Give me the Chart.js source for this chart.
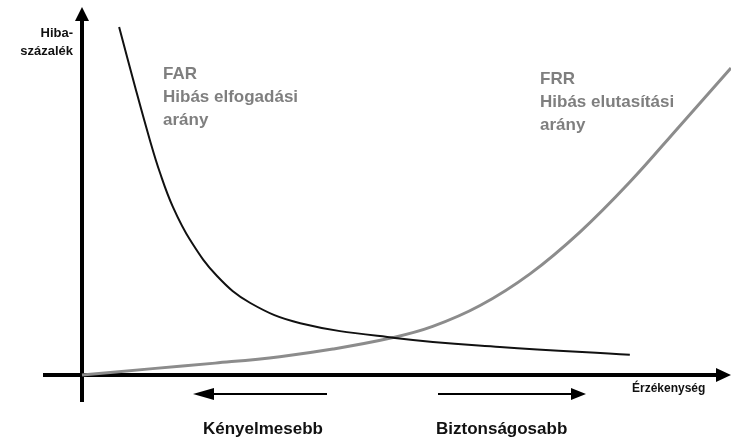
<!DOCTYPE html>
<html>
<head>
<meta charset="utf-8">
<script src="https://cdn.jsdelivr.net/npm/chart.js@4"></script>
<style>
  body { margin: 0; background: #fff; }
  canvas { display: block; }
</style>
</head>
<body>
<canvas id="myChart" width="731" height="443"></canvas>
<script>
// érzékenység (x) és hibaszázalék (y)
const farX = [5.8, 8.3, 10.6, 12.2, 14.2, 16.9, 21.1, 26.3, 34.1, 48.9, 65.3, 85.6];
const farY = [96.7, 80.0, 65.3, 56.1, 46.7, 37.5, 27.5, 20.0, 14.4, 10.3, 7.8, 5.6];
const frrX = [0, 10.6, 20.8, 30.9, 39.2, 48.6, 54.8, 62.2, 70.0, 77.8, 85.6, 93.4, 101.4];
const frrY = [0, 1.7, 3.3, 5.1, 7.2, 10.4, 13.5, 19.3, 28.1, 39.7, 53.6, 69.2, 85.3];

const farLabel = ['FAR', 'Hibás elfogadási', 'arány'];
const frrLabel = ['FRR', 'Hibás elutasítási', 'arány'];
const yTitle = ['Hiba-', 'százalék'];
const xTitle = 'Érzékenység';
const leftLabel = 'Kényelmesebb';
const rightLabel = 'Biztonságosabb';

const toPoints = (xs, ys) => xs.map((x, i) => ({ x: x, y: ys[i] }));

const FONT = '"Liberation Sans", Arial, sans-serif';
const GRAY = '#7f7f7f';

// tengelyek, nyilak, feliratok
const drawingPlugin = {
  id: 'drawing',
  beforeDatasetsDraw: (chart) => {
    const { ctx, scales } = chart;
    const x0 = scales.x.getPixelForValue(0);
    const y0 = scales.y.getPixelForValue(0);
    ctx.save();
    ctx.fillStyle = '#000';
    ctx.strokeStyle = '#000';
    ctx.lineWidth = 4;
    // y tengely
    ctx.beginPath();
    ctx.moveTo(x0, 402);
    ctx.lineTo(x0, 20);
    ctx.stroke();
    ctx.beginPath();
    ctx.moveTo(x0, 7);
    ctx.lineTo(x0 - 7, 21);
    ctx.lineTo(x0 + 7, 21);
    ctx.closePath();
    ctx.fill();
    // x tengely
    ctx.beginPath();
    ctx.moveTo(43, y0);
    ctx.lineTo(718, y0);
    ctx.stroke();
    ctx.beginPath();
    ctx.moveTo(731, y0);
    ctx.lineTo(716, y0 - 7);
    ctx.lineTo(716, y0 + 7);
    ctx.closePath();
    ctx.fill();
    ctx.restore();
  },
  afterDatasetsDraw: (chart) => {
    const { ctx } = chart;
    ctx.save();
    ctx.textBaseline = 'middle';

    // y tengely felirat
    ctx.font = 'bold 13px ' + FONT;
    ctx.fillStyle = '#111';
    ctx.textAlign = 'right';
    ctx.fillText(yTitle[0], 73, 33);
    ctx.fillText(yTitle[1], 73, 51);

    // x tengely felirat
    ctx.font = 'bold 12px ' + FONT;
    ctx.textAlign = 'left';
    ctx.fillText(xTitle, 632, 389);

    // görbe feliratok
    ctx.font = 'bold 17px ' + FONT;
    ctx.fillStyle = GRAY;
    farLabel.forEach((t, i) => ctx.fillText(t, 163, 74 + i * 23));
    frrLabel.forEach((t, i) => ctx.fillText(t, 540, 79 + i * 23));

    // nyilak a tengely alatt
    ctx.strokeStyle = '#000';
    ctx.fillStyle = '#000';
    ctx.lineWidth = 2;
    const ay = 394;
    ctx.beginPath();
    ctx.moveTo(205, ay);
    ctx.lineTo(327, ay);
    ctx.moveTo(438, ay);
    ctx.lineTo(572, ay);
    ctx.stroke();
    ctx.beginPath();
    ctx.moveTo(193, ay);
    ctx.lineTo(214, ay - 6);
    ctx.lineTo(214, ay + 6);
    ctx.closePath();
    ctx.fill();
    ctx.beginPath();
    ctx.moveTo(586, ay);
    ctx.lineTo(571, ay - 6);
    ctx.lineTo(571, ay + 6);
    ctx.closePath();
    ctx.fill();

    ctx.font = 'bold 17px ' + FONT;
    ctx.fillStyle = '#111';
    ctx.textAlign = 'left';
    ctx.fillText(leftLabel, 203, 429);
    ctx.fillText(rightLabel, 436, 429);
    ctx.restore();
  }
};

const ctx = document.getElementById('myChart');

new Chart(ctx, {
  type: 'line',
  data: {
    datasets: [
      {
        label: 'FAR',
        data: toPoints(farX, farY),
        borderColor: '#111',
        borderWidth: 2,
        pointRadius: 0,
        tension: 0.4
      },
      {
        label: 'FRR',
        data: toPoints(frrX, frrY),
        borderColor: '#8c8c8c',
        borderWidth: 3,
        pointRadius: 0,
        tension: 0.4
      }
    ]
  },
  options: {
    responsive: false,
    animation: false,
    layout: { padding: 0 },
    plugins: {
      legend: { display: false },
      tooltip: { enabled: false }
    },
    scales: {
      x: { type: 'linear', display: false, min: -12.8125, max: 101.40625 },
      y: { type: 'linear', display: false, min: -18.889, max: 104.167 }
    }
  },
  plugins: [drawingPlugin]
});
</script>
</body>
</html>
